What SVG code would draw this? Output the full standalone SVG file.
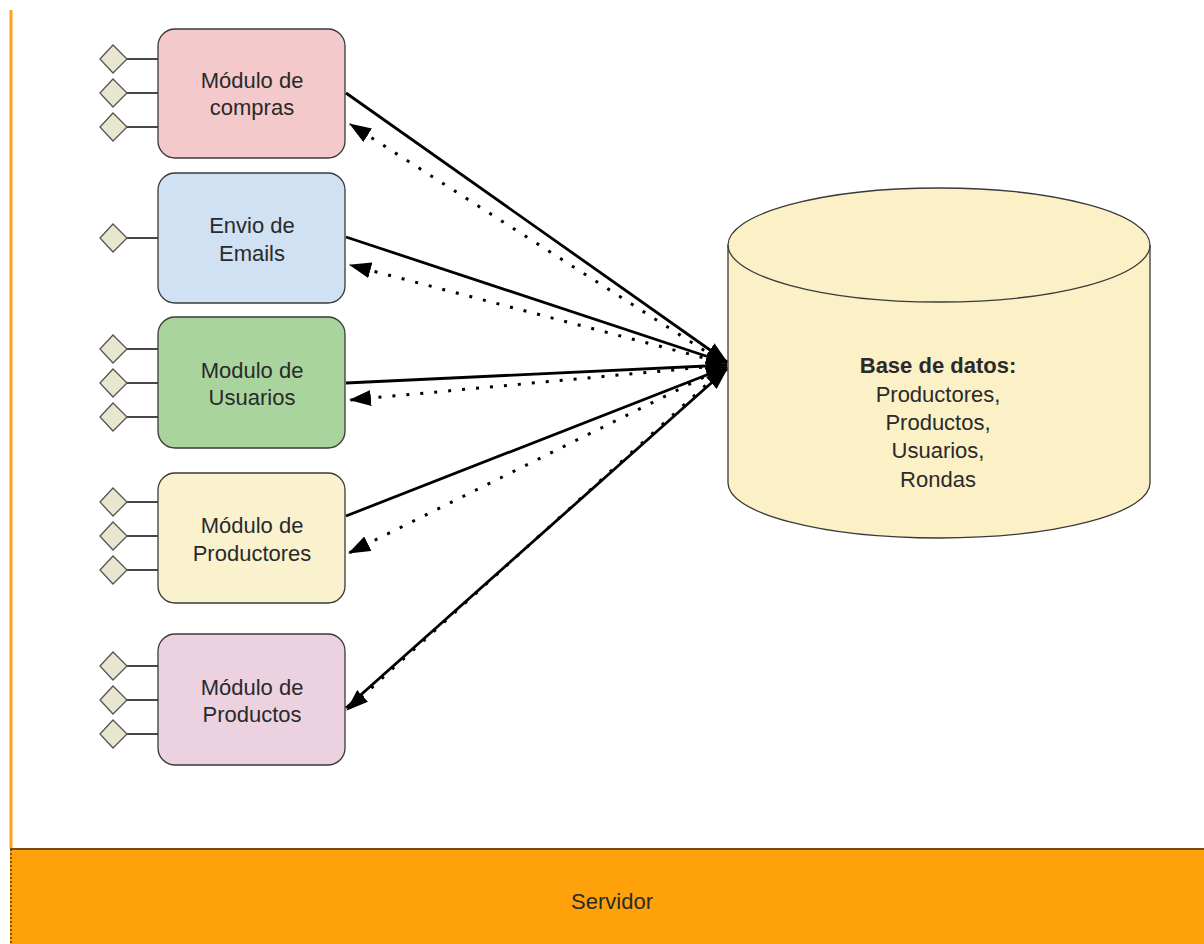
<svg xmlns="http://www.w3.org/2000/svg" width="1204" height="944" viewBox="0 0 1204 944">
  <style>
    .box { stroke: #3a3a3a; stroke-width: 1.3; }
    .port { fill: #e9e6cf; stroke: #555; stroke-width: 1.3; }
    .stub { stroke: #333; stroke-width: 1.8; }
    .lbl { font-family: "Liberation Sans", Arial, sans-serif; font-size: 22px; fill: #2a2a2a; text-anchor: middle; }
    .solid { fill: none; stroke: #000; stroke-width: 2.8; }
    .dots { fill: none; stroke: #000; stroke-width: 3; stroke-dasharray: 3 11; }
  </style>
  <defs>
    <marker id="head" viewBox="0 0 22 16" refX="21" refY="8" markerWidth="22" markerHeight="16" markerUnits="userSpaceOnUse" orient="auto">
      <path d="M0,0 L22,8 L0,16 Z" fill="#000"/>
    </marker>
    <g id="pin">
      <line class="stub" x1="126" y1="0" x2="158" y2="0"/>
      <path class="port" d="M100,0 L113,-14 L127,0 L113,14 Z"/>
    </g>
  </defs>

  <rect width="1204" height="944" fill="#fff"/>

  <!-- server container -->
  <g id="servidor">
    <line x1="11" y1="10" x2="11" y2="848" stroke="#ffa21c" stroke-width="3"/>
    <rect x="10" y="848" width="1196" height="100" fill="#fea10b"/>
    <line x1="10" y1="849" x2="1204" y2="849" stroke="#7a4a10" stroke-width="2"/>
    <line x1="11" y1="849" x2="11" y2="944" stroke="#5a3a10" stroke-width="1.5" stroke-dasharray="2 2"/>
    <text class="lbl" x="612" y="909" font-size="19" fill="#3a2200">Servidor</text>
  </g>

  <!-- modules -->
  <g id="compras">
    <use href="#pin" y="59"/><use href="#pin" y="93"/><use href="#pin" y="127"/>
    <rect class="box" x="158" y="29" width="187" height="129" rx="17" fill="#f3c9cb"/>
    <text class="lbl" x="252" y="88">Módulo de</text>
    <text class="lbl" x="252" y="115">compras</text>
  </g>
  <g id="emails">
    <use href="#pin" y="238"/>
    <rect class="box" x="158" y="173" width="187" height="130" rx="17" fill="#cfe1f2"/>
    <text class="lbl" x="252" y="233">Envio de</text>
    <text class="lbl" x="252" y="261">Emails</text>
  </g>
  <g id="usuarios">
    <use href="#pin" y="349"/><use href="#pin" y="383"/><use href="#pin" y="417"/>
    <rect class="box" x="158" y="317" width="187" height="131" rx="17" fill="#a9d49e"/>
    <text class="lbl" x="252" y="378">Modulo de</text>
    <text class="lbl" x="252" y="405">Usuarios</text>
  </g>
  <g id="productores">
    <use href="#pin" y="502"/><use href="#pin" y="536"/><use href="#pin" y="570"/>
    <rect class="box" x="158" y="473" width="187" height="130" rx="17" fill="#faf2cf"/>
    <text class="lbl" x="252" y="533">Módulo de</text>
    <text class="lbl" x="252" y="561">Productores</text>
  </g>
  <g id="productos">
    <use href="#pin" y="666"/><use href="#pin" y="700"/><use href="#pin" y="734"/>
    <rect class="box" x="158" y="634" width="187" height="131" rx="17" fill="#ecd1e0"/>
    <text class="lbl" x="252" y="695">Módulo de</text>
    <text class="lbl" x="252" y="722">Productos</text>
  </g>

  <!-- database -->
  <g id="basedatos">
    <path class="box" d="M728,245 L728,483 A211,55 0 0 0 1150,483 L1150,245 A211,57 0 0 0 728,245 Z" fill="#fbf0c6"/>
    <path d="M728,245 A211,57 0 0 0 1150,245" fill="none" stroke="#3a3a3a" stroke-width="1.3"/>
    <text class="lbl" x="938" y="373" font-weight="bold">Base de datos:</text>
    <text class="lbl" x="938" y="402">Productores,</text>
    <text class="lbl" x="938" y="430">Productos,</text>
    <text class="lbl" x="938" y="458">Usuarios,</text>
    <text class="lbl" x="938" y="487">Rondas</text>
  </g>

  <!-- connectors -->
  <g id="connectors">
    <line class="solid" x1="346" y1="93" x2="727" y2="362" marker-end="url(#head)"/>
    <line class="solid" x1="346" y1="237" x2="727" y2="363" marker-end="url(#head)"/>
    <line class="solid" x1="346" y1="383" x2="727" y2="365" marker-end="url(#head)"/>
    <line class="solid" x1="346" y1="516" x2="727" y2="367" marker-end="url(#head)"/>
    <line class="solid" x1="346" y1="708" x2="727" y2="369" marker-end="url(#head)"/>

    <line class="dots" x1="716" y1="358" x2="350" y2="124" marker-end="url(#head)"/>
    <line class="dots" x1="716" y1="361" x2="350" y2="265" marker-end="url(#head)"/>
    <line class="dots" x1="716" y1="366" x2="350" y2="400" marker-end="url(#head)"/>
    <line class="dots" x1="716" y1="371" x2="349" y2="553" marker-end="url(#head)"/>
    <line class="dots" x1="716" y1="376" x2="347" y2="710" marker-end="url(#head)"/>
  </g>
</svg>
